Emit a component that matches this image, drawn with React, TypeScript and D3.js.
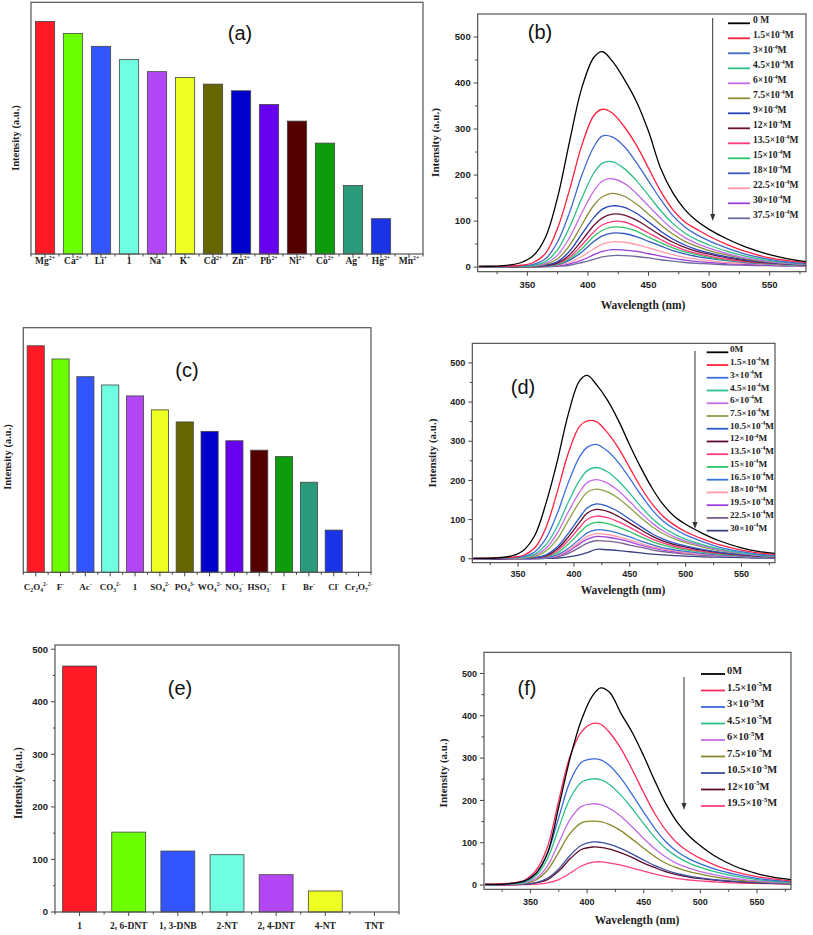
import React from 'react';
import * as d3 from 'd3';

// ---------- bar data ----------
const catsA = ['Mg^{2+}', 'Ca^{2+}', 'Li^{+}', '1', 'Na^{+}', 'K^{+}', 'Cd^{2+}', 'Zn^{2+}', 'Pb^{2+}', 'Ni^{2+}', 'Co^{2+}', 'Ag^{+}', 'Hg^{2+}', 'Mn^{2+}'];
const valsA = [560, 531, 500, 468, 439, 425, 409, 393, 360, 320, 267, 165, 85, 0];

const catsC = ['C_{2}O_{4}^{2-}', 'F^{-}', 'Ac^{-}', 'CO_{3}^{2-}', '1', 'SO_{4}^{2-}', 'PO_{4}^{3-}', 'WO_{4}^{2-}', 'NO_{3}^{-}', 'HSO_{3}^{-}', 'I^{-}', 'Br^{-}', 'Cl^{-}', 'Cr_{2}O_{7}^{2-}'];
const valsC = [601, 566, 519, 497, 468, 431, 399, 374, 349, 324, 307, 239, 112, 0];

const catsE = ['1', '2, 6-DNT', '1, 3-DNB', '2-NT', '2, 4-DNT', '4-NT', 'TNT'];
const valsE = [468, 152, 116, 109, 71, 40, 0];

const barColors = ['#ff1a26', '#6cff00', '#3355ff', '#70ffe0', '#b347f5', '#eeff22', '#666600', '#0000cc', '#6600ee', '#550000', '#0c9c0c', '#2a9a7a', '#1a33e6', '#888888'];

const yTicksE = [0, 100, 200, 300, 400, 500];

// ---------- spectra data ----------
const wavelengths = [310, 330, 345, 355, 365, 375, 385, 395, 405, 412, 420, 430, 440, 450, 460, 470, 480, 490, 500, 515, 530, 550, 565, 580];
const xTicksSpec = [350, 400, 450, 500, 550];
const yTicksSpec = [0, 100, 200, 300, 400, 500];

const labelsB = ['0 M', '1.5×10^{-4}M', '3×10^{-4}M', '4.5×10^{-4}M', '6×10^{-4}M', '7.5×10^{-4}M', '9×10^{-4}M', '12×10^{-4}M', '13.5×10^{-4}M', '15×10^{-4}M', '18×10^{-4}M', '22.5×10^{-4}M', '30×10^{-4}M', '37.5×10^{-4}M'];
const colorsB = ['#000000', '#ff1f3d', '#3d68cc', '#2fbf85', '#c46ce6', '#8c8c3a', '#2443b8', '#6b1036', '#ff3a78', '#2cc466', '#3558c4', '#ff9aa8', '#9b3fd6', '#6a6a9e'];
const seriesB = [
  [2, 3, 10, 25, 65, 152, 275, 390, 456, 468, 448, 408, 360, 295, 215, 162, 125, 100, 82, 61, 44, 27, 18, 12],
  [1, 2, 4, 10, 30, 85, 170, 265, 330, 343, 335, 305, 265, 215, 165, 125, 98, 82, 67, 49, 34, 20, 14, 10],
  [1, 1, 3, 6, 18, 55, 120, 200, 262, 285, 283, 262, 227, 187, 147, 112, 87, 70, 57, 41, 28, 17, 11, 8],
  [1, 1, 2, 4, 12, 38, 88, 150, 205, 226, 229, 214, 188, 156, 123, 95, 74, 59, 48, 34, 24, 14, 10, 7],
  [1, 1, 2, 3, 8, 26, 65, 118, 166, 187, 192, 182, 160, 133, 106, 82, 64, 51, 41, 29, 20, 12, 8, 6],
  [0, 1, 1, 2, 6, 18, 48, 92, 135, 153, 160, 154, 137, 115, 92, 72, 56, 45, 36, 26, 18, 11, 8, 6],
  [0, 0, 1, 2, 4, 12, 35, 72, 108, 126, 133, 130, 117, 98, 78, 61, 48, 38, 31, 22, 16, 10, 7, 5],
  [0, 0, 1, 1, 3, 9, 27, 58, 91, 107, 115, 113, 102, 86, 69, 54, 43, 34, 28, 20, 14, 9, 7, 5],
  [0, 0, 1, 1, 3, 8, 22, 48, 77, 92, 99, 98, 88, 74, 60, 47, 37, 30, 24, 17, 12, 8, 6, 5],
  [0, 0, 0, 1, 2, 6, 18, 40, 67, 80, 87, 86, 78, 65, 53, 42, 33, 27, 21, 15, 11, 7, 5, 4],
  [0, 0, 0, 1, 2, 5, 15, 33, 56, 68, 74, 73, 66, 56, 46, 36, 29, 23, 19, 14, 10, 7, 5, 4],
  [0, 0, 0, 1, 1, 4, 10, 23, 40, 50, 55, 54, 49, 42, 34, 27, 21, 17, 14, 10, 8, 6, 4, 3],
  [0, 0, 0, 0, 1, 2, 7, 15, 27, 34, 38, 37, 34, 29, 24, 19, 15, 12, 10, 7, 6, 4, 3, 3],
  [0, 0, 0, 0, 1, 2, 4, 10, 17, 22, 25, 25, 23, 20, 16, 13, 10, 8, 7, 5, 4, 3, 2, 2],
];

const labelsD = ['0M', '1.5×10^{-4}M', '3×10^{-4}M', '4.5×10^{-4}M', '6×10^{-4}M', '7.5×10^{-4}M', '10.5×10^{-4}M', '12×10^{-4}M', '13.5×10^{-4}M', '15×10^{-4}M', '16.5×10^{-4}M', '18×10^{-4}M', '19.5×10^{-4}M', '22.5×10^{-4}M', '30×10^{-4}M'];
const colorsD = ['#000000', '#ff1f3d', '#3d6fe0', '#2fbf8f', '#c46ce6', '#8fa046', '#2c5cc4', '#5c0a2e', '#ff3a78', '#2cc466', '#3a74d8', '#ff9aa8', '#a040e0', '#7a6090', '#3c4080'];
const seriesD = [
  [1, 2, 8, 22, 60, 142, 248, 370, 454, 468, 445, 405, 352, 290, 232, 180, 138, 108, 88, 65, 46, 28, 19, 14],
  [1, 2, 4, 9, 28, 80, 170, 270, 338, 352, 350, 322, 282, 232, 182, 140, 108, 86, 69, 51, 36, 22, 15, 11],
  [1, 1, 3, 6, 18, 52, 115, 195, 260, 285, 292, 275, 245, 205, 163, 125, 96, 76, 61, 44, 30, 18, 12, 8],
  [1, 1, 2, 4, 12, 36, 82, 145, 200, 225, 233, 222, 198, 167, 133, 103, 80, 63, 50, 36, 25, 15, 10, 7],
  [0, 1, 2, 3, 9, 27, 65, 120, 170, 195, 202, 193, 173, 146, 117, 91, 71, 56, 45, 33, 23, 14, 9, 7],
  [0, 1, 1, 2, 6, 20, 50, 98, 145, 170, 178, 171, 154, 130, 105, 82, 64, 51, 41, 30, 21, 13, 9, 6],
  [0, 0, 1, 1, 3, 10, 30, 65, 105, 130, 140, 134, 120, 101, 82, 64, 50, 40, 33, 24, 17, 11, 8, 6],
  [0, 0, 1, 1, 3, 8, 25, 56, 93, 117, 126, 121, 108, 91, 74, 58, 45, 36, 30, 22, 16, 10, 7, 5],
  [0, 0, 0, 1, 2, 6, 20, 47, 80, 101, 109, 105, 94, 80, 65, 51, 40, 32, 26, 19, 14, 9, 7, 5],
  [0, 0, 0, 1, 2, 5, 15, 38, 66, 85, 93, 90, 81, 69, 56, 44, 35, 28, 23, 17, 12, 8, 6, 4],
  [0, 0, 0, 0, 1, 3, 10, 27, 50, 66, 74, 72, 65, 56, 45, 36, 28, 23, 19, 14, 10, 7, 5, 4],
  [0, 0, 0, 0, 1, 3, 8, 22, 43, 57, 64, 62, 56, 48, 39, 31, 25, 20, 16, 12, 9, 6, 5, 4],
  [0, 0, 0, 0, 1, 2, 7, 19, 38, 50, 57, 55, 50, 43, 35, 28, 22, 18, 15, 11, 8, 6, 4, 3],
  [0, 0, 0, 0, 1, 2, 5, 14, 29, 40, 46, 45, 41, 35, 29, 23, 18, 15, 12, 9, 7, 5, 4, 3],
  [0, 0, 0, 0, 0, 1, 2, 5, 10, 16, 24, 23, 21, 18, 15, 12, 10, 8, 7, 5, 4, 3, 2, 2],
];

const labelsF = ['0M', '1.5×10^{-5}M', '3×10^{-5}M', '4.5×10^{-5}M', '6×10^{-5}M', '7.5×10^{-5}M', '10.5×10^{-5}M', '12×10^{-5}M', '19.5×10^{-5}M'];
const colorsF = ['#000000', '#ff2a5a', '#3a6ad8', '#2fbf85', '#c46ce6', '#88882a', '#4050a0', '#5c0a2e', '#ff4080'];
const seriesF = [
  [2, 3, 10, 28, 75, 185, 300, 390, 448, 466, 455, 405, 360, 305, 245, 190, 147, 116, 93, 65, 45, 27, 18, 13],
  [2, 4, 12, 35, 90, 200, 305, 362, 382, 380, 360, 322, 272, 218, 168, 128, 98, 78, 63, 45, 32, 20, 14, 10],
  [1, 3, 9, 28, 75, 160, 245, 290, 298, 296, 282, 252, 213, 172, 133, 101, 78, 62, 50, 36, 26, 16, 11, 8],
  [1, 2, 7, 22, 62, 135, 205, 243, 251, 249, 237, 212, 180, 145, 112, 85, 66, 52, 42, 30, 21, 13, 9, 7],
  [1, 2, 5, 16, 45, 100, 155, 186, 192, 190, 181, 162, 137, 110, 85, 65, 50, 40, 32, 23, 16, 10, 7, 5],
  [1, 2, 4, 12, 35, 78, 122, 147, 151, 150, 143, 128, 108, 87, 67, 51, 40, 32, 26, 18, 13, 8, 6, 4],
  [0, 1, 2, 6, 16, 38, 70, 94, 102, 101, 96, 86, 73, 59, 46, 35, 27, 21, 17, 12, 9, 6, 4, 3],
  [0, 1, 2, 5, 13, 33, 62, 84, 90, 89, 85, 76, 65, 52, 41, 31, 24, 19, 15, 11, 8, 5, 4, 3],
  [0, 0, 1, 2, 5, 13, 28, 45, 54, 55, 52, 47, 40, 33, 26, 20, 15, 12, 10, 7, 5, 4, 3, 2],
];

const SERIF = "'Liberation Serif', 'Times New Roman', serif";
const SANS = "'Liberation Sans', Arial, sans-serif";

function rich(s: string, fs: number) {
  const parts = s.split(/(\^\{[^}]*\}|_\{[^}]*\})/).filter((p) => p.length > 0);
  let cur = 0;
  return parts.map((p, i) => {
    let target = 0;
    let size = fs;
    let txt = p;
    if (p.startsWith('^{')) {
      target = -fs * 0.42;
      size = fs * 0.62;
      txt = p.slice(2, -1);
    } else if (p.startsWith('_{')) {
      target = fs * 0.25;
      size = fs * 0.62;
      txt = p.slice(2, -1);
    }
    const dy = target - cur;
    cur = target;
    return (
      <tspan key={i} dy={dy} fontSize={size}>
        {txt}
      </tspan>
    );
  });
}

type Box = { x0: number; x1: number; y0: number; y1: number };

function BarPanel(props: {
  box: Box;
  cats: string[];
  vals: number[];
  yMax: number;
  yTicks?: number[];
  catFs: number;
  labelBaseline: number;
  yTitle: [number, number, number];
  tag: [number, number, string];
}) {
  const { box, cats, vals, yMax, yTicks, catFs, labelBaseline, yTitle, tag } = props;
  const x = d3
    .scaleBand<string>()
    .domain(cats.map((_, i) => String(i)))
    .range([box.x0, box.x1])
    .paddingInner(0.31)
    .paddingOuter(0.155);
  const y = d3.scaleLinear().domain([0, yMax]).range([box.y1, box.y0]);
  const step = x.step();
  const minor = d3.range(cats.length + 1).map((k) => box.x0 + k * step);
  return (
    <g>
      {vals.map((v, i) =>
        v > 0 ? (
          <rect
            key={i}
            x={x(String(i))}
            y={y(v)}
            width={x.bandwidth()}
            height={box.y1 - y(v)}
            fill={barColors[i]}
            stroke="#444"
            strokeWidth={0.8}
          />
        ) : null
      )}
      <rect x={box.x0} y={box.y0} width={box.x1 - box.x0} height={box.y1 - box.y0} fill="none" stroke="#555" strokeWidth={1.2} />
      {cats.map((c, i) => {
        const cx = (x(String(i)) as number) + x.bandwidth() / 2;
        return (
          <g key={i}>
            <line x1={cx} x2={cx} y1={box.y1} y2={box.y1 + 4} stroke="#444" strokeWidth={1} />
            <text x={cx} y={labelBaseline} textAnchor="middle" fontFamily={SERIF} fontWeight="bold" fontSize={catFs} fill="#222">
              {rich(c, catFs)}
            </text>
          </g>
        );
      })}
      {minor.map((mx, k) => (
        <line key={'m' + k} x1={mx} x2={mx} y1={box.y1} y2={box.y1 + 2.5} stroke="#444" strokeWidth={1} />
      ))}
      {yTicks &&
        yTicks.map((t) => (
          <g key={'yt' + t}>
            <line x1={box.x0 - 4} x2={box.x0} y1={y(t)} y2={y(t)} stroke="#444" strokeWidth={1} />
            {t + 50 <= yMax ? (
              <line x1={box.x0 - 2} x2={box.x0} y1={y(t + 50)} y2={y(t + 50)} stroke="#444" strokeWidth={1} />
            ) : null}
            <text x={box.x0 - 7} y={y(t)} dy="0.35em" textAnchor="end" fontFamily={SANS} fontWeight="bold" fontSize={9.5} fill="#222">
              {t}
            </text>
          </g>
        ))}
      <text
        transform={`translate(${yTitle[0]},${yTitle[1]}) rotate(-90)`}
        textAnchor="middle"
        dy="0.35em"
        fontFamily={SERIF}
        fontWeight="bold"
        fontSize={yTitle[2]}
        fill="#222"
      >
        Intensity (a.u.)
      </text>
      <text x={tag[0]} y={tag[1]} dy="0.35em" textAnchor="middle" fontFamily={SANS} fontSize={20} fill="#111">
        {tag[2]}
      </text>
    </g>
  );
}

function SpectrumPanel(props: {
  id: string;
  box: Box;
  series: number[][];
  colors: string[];
  labels: string[];
  legend: { lx0: number; lx1: number; tx: number; ty0: number; dy: number; fs: number };
  arrow: [number, number, number];
  tag: [number, number, string];
  yTitle: [number, number];
  xTitle: [number, number];
  xLabY: number;
  tickFs: number;
}) {
  const { id, box, series, colors, labels, legend, arrow, tag, yTitle, xTitle, xLabY, tickFs } = props;
  const x = d3.scaleLinear().domain([309, 580]).range([box.x0, box.x1]);
  const y = d3.scaleLinear().domain([-10, 550]).range([box.y1, box.y0]);
  const line = d3
    .line<number>()
    .x((_, i) => x(wavelengths[i]))
    .y((d) => y(d))
    .curve(d3.curveCatmullRom.alpha(0.5));
  const xMinor = [325, 375, 425, 475, 525, 575];
  const yMinor = [50, 150, 250, 350, 450];
  return (
    <g>
      <defs>
        <clipPath id={'clip-' + id}>
          <rect x={box.x0} y={box.y0} width={box.x1 - box.x0} height={box.y1 - box.y0} />
        </clipPath>
      </defs>
      <g clipPath={`url(#clip-${id})`}>
        {series
          .map((s, i) => ({ s, i }))
          .reverse()
          .map(({ s, i }) => (
            <path key={i} d={line(s) as string} fill="none" stroke={colors[i]} strokeWidth={1.3} />
          ))}
      </g>
      <rect x={box.x0} y={box.y0} width={box.x1 - box.x0} height={box.y1 - box.y0} fill="none" stroke="#444" strokeWidth={1.1} />
      {xTicksSpec.map((t) => (
        <g key={'x' + t}>
          <line x1={x(t)} x2={x(t)} y1={box.y1} y2={box.y1 + 4} stroke="#444" />
          <text x={x(t)} y={xLabY} dy="0.35em" textAnchor="middle" fontFamily={SANS} fontWeight="bold" fontSize={tickFs} fill="#222">
            {t}
          </text>
        </g>
      ))}
      {xMinor.map((t) => (
        <line key={'xm' + t} x1={x(t)} x2={x(t)} y1={box.y1} y2={box.y1 + 2.5} stroke="#444" />
      ))}
      {yTicksSpec.map((t) => (
        <g key={'y' + t}>
          <line x1={box.x0 - 4} x2={box.x0} y1={y(t)} y2={y(t)} stroke="#444" />
          <text x={box.x0 - 7} y={y(t)} dy="0.35em" textAnchor="end" fontFamily={SANS} fontWeight="bold" fontSize={tickFs} fill="#222">
            {t}
          </text>
        </g>
      ))}
      {yMinor.map((t) => (
        <line key={'ym' + t} x1={box.x0 - 2.5} x2={box.x0} y1={y(t)} y2={y(t)} stroke="#444" />
      ))}
      <text
        transform={`translate(${yTitle[0]},${yTitle[1]}) rotate(-90)`}
        textAnchor="middle"
        dy="0.35em"
        fontFamily={SERIF}
        fontWeight="bold"
        fontSize={11}
        fill="#222"
      >
        Intensity (a.u.)
      </text>
      <text x={xTitle[0]} y={xTitle[1]} dy="0.35em" textAnchor="middle" fontFamily={SERIF} fontWeight="bold" fontSize={11.5} fill="#222">
        Wavelength (nm)
      </text>
      <text x={tag[0]} y={tag[1]} dy="0.35em" textAnchor="middle" fontFamily={SANS} fontSize={20} fill="#111">
        {tag[2]}
      </text>
      <line x1={arrow[0]} x2={arrow[0]} y1={arrow[1]} y2={arrow[2] - 5} stroke="#333" strokeWidth={1} />
      <path d={`M${arrow[0] - 2.5},${arrow[2] - 7} L${arrow[0] + 2.5},${arrow[2] - 7} L${arrow[0]},${arrow[2]} Z`} fill="#333" />
      {labels.map((lab, i) => {
        const ly = legend.ty0 + i * legend.dy;
        return (
          <g key={'l' + i}>
            <line x1={legend.lx0} x2={legend.lx1} y1={ly} y2={ly} stroke={colors[i]} strokeWidth={1.8} />
            <text x={legend.tx} y={ly} dy="0.35em" fontFamily={SERIF} fontWeight="bold" fontSize={legend.fs} fill="#222">
              {rich(lab, legend.fs)}
            </text>
          </g>
        );
      })}
    </g>
  );
}

export default function App() {
  return (
    <svg width={813} height={935} style={{ position: 'absolute', left: 0, top: 0, background: '#fff' }}>
      <rect x={0} y={0} width={813} height={935} fill="#fff" />
      <BarPanel
        box={{ x0: 31, x1: 423, y0: 2.3, y1: 254 }}
        cats={catsA}
        vals={valsA}
        yMax={606}
        catFs={9.5}
        labelBaseline={263.5}
        yTitle={[15, 138, 10.5]}
        tag={[240, 33, '(a)']}
      />
      <BarPanel
        box={{ x0: 23.3, x1: 371, y0: 327.7, y1: 572.3 }}
        cats={catsC}
        vals={valsC}
        yMax={649}
        catFs={9}
        labelBaseline={589.5}
        yTitle={[7.5, 457, 10.5]}
        tag={[187, 370, '(c)']}
      />
      <BarPanel
        box={{ x0: 55, x1: 399, y0: 645, y1: 912 }}
        cats={catsE}
        vals={valsE}
        yMax={508}
        yTicks={yTicksE}
        catFs={9.5}
        labelBaseline={929}
        yTitle={[18, 783, 11.5]}
        tag={[180, 688, '(e)']}
      />
      <SpectrumPanel
        id="b"
        box={{ x0: 477.7, x1: 806, y0: 14, y1: 271.7 }}
        series={seriesB}
        colors={colorsB}
        labels={labelsB}
        legend={{ lx0: 728, lx1: 750, tx: 753, ty0: 23.3, dy: 15, fs: 9.5 }}
        arrow={[712.7, 18, 221]}
        tag={[540, 32, '(b)']}
        yTitle={[435, 142.5]}
        xTitle={[643, 305]}
        xLabY={285}
        tickFs={9.5}
      />
      <SpectrumPanel
        id="d"
        box={{ x0: 472.3, x1: 775, y0: 343.3, y1: 562.7 }}
        series={seriesD}
        colors={colorsD}
        labels={labelsD}
        legend={{ lx0: 706.7, lx1: 728.3, tx: 730, ty0: 352.3, dy: 12.74, fs: 9.2 }}
        arrow={[695, 351, 529]}
        tag={[523, 387, '(d)']}
        yTitle={[431.7, 453]}
        xTitle={[623, 590]}
        xLabY={574}
        tickFs={9}
      />
      <SpectrumPanel
        id="f"
        box={{ x0: 484, x1: 791, y0: 652.3, y1: 889.3 }}
        series={seriesF}
        colors={colorsF}
        labels={labelsF}
        legend={{ lx0: 701, lx1: 725, tx: 727, ty0: 674, dy: 16.5, fs: 10.5 }}
        arrow={[684, 677, 810]}
        tag={[527, 688, '(f)']}
        yTitle={[443, 773]}
        xTitle={[637, 920]}
        xLabY={901.7}
        tickFs={9}
      />
    </svg>
  );
}
